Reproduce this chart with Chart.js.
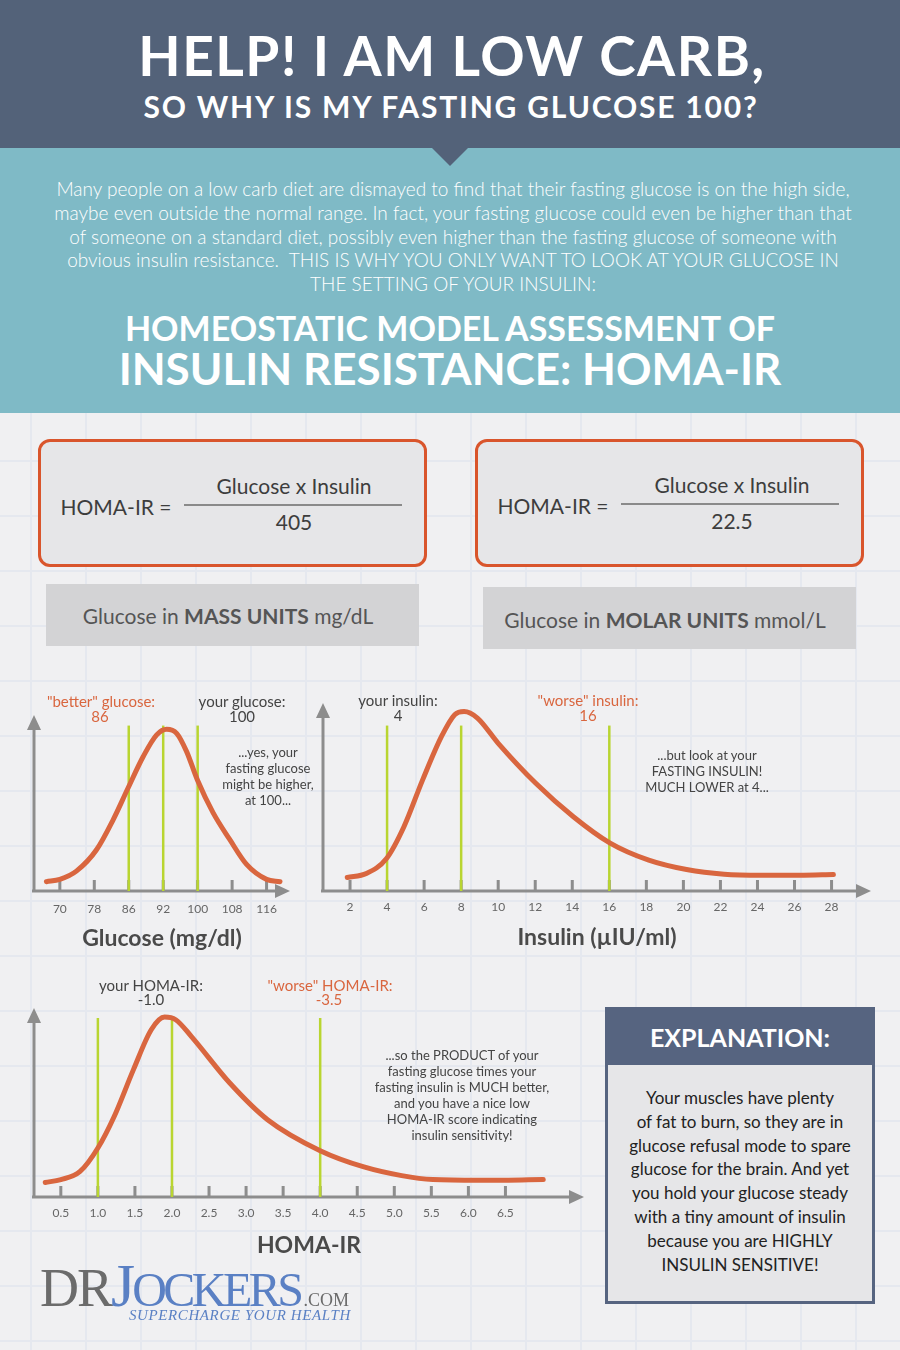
<!DOCTYPE html>
<html>
<head>
<meta charset="utf-8">
<script src="https://cdn.jsdelivr.net/npm/chart.js@4.4.0/dist/chart.umd.min.js"></script>
<style>
body { margin: 0; background: #f0f0f2; }
#page {
  position: relative; width: 900px; height: 1350px; overflow: hidden;
  font-family: Lato, "Open Sans", sans-serif;
  background-color: #f0f0f2;
  background-image: linear-gradient(#e5e8ef 2px, transparent 2px), linear-gradient(90deg, #e5e8ef 2px, transparent 2px);
  background-size: 55px 55px;
  background-position: 30px 20px;
}
.c { position: absolute; white-space: nowrap; transform: translate(-50%, -50%); text-align: center; }
#head { position: absolute; left: 0; top: 0; width: 900px; height: 148px; background: #536279; }
#arrow { position: absolute; left: 432px; top: 148px; width: 0; height: 0;
  border-left: 18px solid transparent; border-right: 18px solid transparent; border-top: 18px solid #536279; z-index: 2; }
#band { position: absolute; left: 0; top: 148px; width: 900px; height: 265px; background: #7fbac6; }
.white { color: #fff; font-weight: 700; }
.para { color: #fff; font-size: 19px; font-weight: 300; }
.fbox { position: absolute; top: 439px; width: 383px; height: 122px; border: 3px solid #d9552c; border-radius: 12px; background: #e6e6e8; }
.gbox { position: absolute; width: 373px; height: 62px; background: #d3d3d5; }
.ftxt { color: #3d3d3d; font-size: 21px; }
.fline { position: absolute; height: 2px; background: #8a8a8a; }
.gtxt { color: #555; font-size: 21px; }
.ann { font-size: 15px; color: #444; line-height: 15px; }
.org { color: #d9663f; }
.note { font-size: 13px; color: #444; line-height: 16px; transform: translate(-50%, 0); }
canvas { position: absolute; }
#expl { position: absolute; left: 605px; top: 1007px; width: 264px; height: 291px; border: 3px solid #566480; background: #e6e6e8; }
#explHead { position: absolute; left: 0; top: 0; width: 264px; height: 55px; background: #566480; color: #fff;
  font-weight: 700; font-size: 25px; line-height: 55px; text-align: center; }
#explText { position: absolute; left: 0; top: 76px; width: 264px; text-align: center; font-size: 17px; line-height: 23.8px; color: #222; }
#logo { position: absolute; left: 40px; top: 1254px; font-family: "Liberation Serif", "DejaVu Serif", serif; line-height: 1; white-space: nowrap; }
#tag { position: absolute; left: 129px; top: 1307px; font-family: "Liberation Serif", serif; font-style: italic; color: #5a80c4; font-size: 15px; letter-spacing: 0.6px; }
</style>
</head>
<body>
<div id="page">
  <div id="head"></div>
  <div id="arrow"></div>
  <div id="band"></div>
  <div class="c white" style="left:452px;top:55px;font-size:55px;letter-spacing:1.5px;">HELP! I AM LOW CARB,</div>
  <div class="c white" style="left:451px;top:106px;font-size:30px;letter-spacing:1.8px;">SO WHY IS MY FASTING GLUCOSE 100?</div>

  <div class="c para" style="left:453px;top:188px;">Many people on a low carb diet are dismayed to find that their fasting glucose is on the high side,</div>
  <div class="c para" style="left:453px;top:212px;">maybe even outside the normal range. In fact, your fasting glucose could even be higher than that</div>
  <div class="c para" style="left:453px;top:236px;">of someone on a standard diet, possibly even higher than the fasting glucose of someone with</div>
  <div class="c para" style="left:453px;top:259px;">obvious insulin resistance.&nbsp; THIS IS WHY YOU ONLY WANT TO LOOK AT YOUR GLUCOSE IN</div>
  <div class="c para" style="left:453px;top:283px;">THE SETTING OF YOUR INSULIN:</div>
  <div class="c white" style="left:450px;top:327px;font-size:34px;">HOMEOSTATIC MODEL ASSESSMENT OF</div>
  <div class="c white" style="left:450px;top:368px;font-size:44px;">INSULIN RESISTANCE: HOMA-IR</div>

  <div class="fbox" style="left:38px;"></div>
  <div class="fbox" style="left:475px;"></div>
  <div class="c ftxt" style="left:116px;top:506px;">HOMA-IR =</div>
  <div class="c ftxt" style="left:294px;top:485px;">Glucose x Insulin</div>
  <div class="fline" style="left:184px;top:504px;width:218px;"></div>
  <div class="c ftxt" style="left:294px;top:521px;">405</div>
  <div class="c ftxt" style="left:553px;top:505px;">HOMA-IR =</div>
  <div class="c ftxt" style="left:732px;top:484px;">Glucose x Insulin</div>
  <div class="fline" style="left:621px;top:503px;width:218px;"></div>
  <div class="c ftxt" style="left:732px;top:520px;">22.5</div>

  <div class="gbox" style="left:46px;top:584px;"></div>
  <div class="gbox" style="left:483px;top:587px;"></div>
  <div class="c gtxt" style="left:228px;top:615px;">Glucose in <b>MASS UNITS</b> mg/dL</div>
  <div class="c gtxt" style="left:665px;top:619px;">Glucose in <b>MOLAR UNITS</b> mmol/L</div>

  <canvas id="glucoseChart" width="296" height="257" style="left:14px;top:695px;"></canvas>
  <canvas id="insulinChart" width="588" height="268" style="left:303px;top:683px;"></canvas>
  <canvas id="homaChart" width="590" height="271" style="left:14px;top:988px;"></canvas>

  <div class="c ann org" style="left:101px;top:701px;">"better" glucose:</div>
  <div class="c ann org" style="left:100px;top:716px;">86</div>
  <div class="c ann" style="left:242px;top:701px;">your glucose:</div>
  <div class="c ann" style="left:242px;top:716px;">100</div>
  <div class="c note" style="left:268px;top:744px;">...yes, your<br>fasting glucose<br>might be higher,<br>at 100...</div>

  <div class="c ann" style="left:398px;top:700px;">your insulin:</div>
  <div class="c ann" style="left:398px;top:715px;">4</div>
  <div class="c ann org" style="left:588px;top:700px;">"worse" insulin:</div>
  <div class="c ann org" style="left:588px;top:715px;">16</div>
  <div class="c note" style="left:707px;top:747px;">...but look at your<br>FASTING INSULIN!<br>MUCH LOWER at 4...</div>

  <div class="c ann" style="left:151px;top:985px;">your HOMA-IR:</div>
  <div class="c ann" style="left:151px;top:999px;">-1.0</div>
  <div class="c ann org" style="left:330px;top:985px;">"worse" HOMA-IR:</div>
  <div class="c ann org" style="left:329px;top:999px;">-3.5</div>
  <div class="c note" style="left:462px;top:1047px;">...so the PRODUCT of your<br>fasting glucose times your<br>fasting insulin is MUCH better,<br>and you have a nice low<br>HOMA-IR score indicating<br>insulin sensitivity!</div>

  <div id="expl">
    <div id="explHead">EXPLANATION:</div>
    <div id="explText">Your muscles have plenty<br>of fat to burn, so they are in<br>glucose refusal mode to spare<br>glucose for the brain. And yet<br>you hold your glucose steady<br>with a tiny amount of insulin<br>because you are HIGHLY<br>INSULIN SENSITIVE!</div>
  </div>

  <div id="logo"><span style="color:#6b6b6b;font-size:54px;letter-spacing:-2px;">DR</span><span style="color:#5a80c4;font-size:62px;letter-spacing:-3px;">J</span><span style="color:#5a80c4;font-size:48px;letter-spacing:-3.5px;">OCKERS</span><span style="color:#6b6b6b;font-size:18px;margin-left:3px;">.COM</span></div>
  <div id="tag">SUPERCHARGE YOUR HEALTH</div>
</div>

<script>
// glucose axis uses evenly spaced positions, labels are not evenly spaced
const glucoseTicks = ['70', '78', '86', '92', '100', '108', '116'];
const glucoseMarkers = ['86', '92', '100'];
const glucoseCurveX = [-0.39, 0, 0.48, 1.07, 1.55, 1.98, 2.42, 2.81, 3.10, 3.39, 3.68, 3.99, 4.45, 4.93, 5.42, 6.0, 6.39];
const glucoseCurveY = [5.3, 6.6, 11.3, 23.6, 40.6, 58.5, 76.4, 88.7, 91.9, 89.6, 79.2, 63.2, 44.4, 29.3, 15.1, 6.6, 5.3];

const insulinTicks = [2, 4, 6, 8, 10, 12, 14, 16, 18, 20, 22, 24, 26, 28];
const insulinMarkers = [4, 8, 16];
const insulinCurveX = [1.85, 2.88, 3.97, 4.91, 5.92, 6.94, 7.65, 8.16, 8.88, 9.99, 12.03, 14.06, 16.02, 18.13, 20.17, 22.2, 24.23, 26.27, 28.1];
const insulinCurveY = [7.2, 9.3, 17.3, 34.2, 59.1, 82.2, 93.8, 95.5, 92.0, 78.7, 57.3, 39.5, 25.6, 16.4, 11.4, 8.9, 8.4, 8.4, 8.8];

const homaTicks = ['0.5', '1.0', '1.5', '2.0', '2.5', '3.0', '3.5', '4.0', '4.5', '5.0', '5.5', '6.0', '6.5'];
const homaMarkers = [1.0, 2.0, 4.0];
const homaCurveX = [0.29, 0.5, 0.76, 1.0, 1.22, 1.48, 1.72, 1.9, 2.05, 2.26, 2.78, 3.29, 4.0, 4.59, 5.1, 5.52, 6.14, 7.01];
const homaCurveY = [7.7, 9.2, 13.5, 25.9, 42.6, 67.4, 88.5, 95.2, 93.8, 85.0, 60.3, 40.9, 24.5, 15.9, 11.3, 9.2, 8.8, 9.2];

// axes with arrow heads and upward tick marks
const axesArrows = {
  id: 'axesArrows',
  beforeDatasetsDraw(chart) {
    const { ctx, chartArea: a, scales: { x } } = chart;
    ctx.save();
    ctx.strokeStyle = '#8d8d8d';
    ctx.fillStyle = '#8d8d8d';
    ctx.lineWidth = 3;
    ctx.beginPath();
    ctx.moveTo(a.left - 2, a.bottom);
    ctx.lineTo(a.right - 10, a.bottom);
    ctx.moveTo(a.left, a.bottom);
    ctx.lineTo(a.left, a.top + 10);
    ctx.stroke();
    ctx.beginPath();
    ctx.moveTo(a.right, a.bottom);
    ctx.lineTo(a.right - 15, a.bottom - 7);
    ctx.lineTo(a.right - 15, a.bottom + 7);
    ctx.closePath();
    ctx.fill();
    ctx.beginPath();
    ctx.moveTo(a.left, a.top);
    ctx.lineTo(a.left - 7, a.top + 15);
    ctx.lineTo(a.left + 7, a.top + 15);
    ctx.closePath();
    ctx.fill();
    ctx.beginPath();
    x.ticks.forEach(t => {
      const px = x.getPixelForValue(t.value);
      ctx.moveTo(px, a.bottom);
      ctx.lineTo(px, a.bottom - 11);
    });
    ctx.stroke();
    ctx.restore();
  }
};

function makeChart(id, o) {
  const datasets = [{
    data: o.curveX.map((v, i) => ({ x: v, y: o.curveY[i] })),
    borderColor: '#d9663f',
    borderWidth: 5,
    borderCapStyle: 'round',
    cubicInterpolationMode: 'monotone',
    pointRadius: 0
  }];
  o.markers.forEach(m => {
    datasets.push({
      data: [{ x: m, y: 0 }, { x: m, y: o.markerTop }],
      borderColor: '#b9d531',
      borderWidth: 2.5,
      pointRadius: 0
    });
  });
  return new Chart(document.getElementById(id), {
    type: 'line',
    data: { datasets: datasets },
    options: {
      responsive: false,
      animation: false,
      layout: { padding: { left: 20, right: 20, top: 20, bottom: 0 } },
      plugins: { legend: { display: false }, tooltip: { enabled: false } },
      scales: {
        x: {
          type: 'linear',
          min: o.min,
          max: o.max,
          grid: { display: false },
          border: { display: false },
          afterBuildTicks: s => { s.ticks = o.tickVals.map(v => ({ value: v })); },
          afterFit: s => { s.height = o.axisHeight; },
          ticks: {
            callback: (v, i) => o.tickLabels[i],
            color: '#666',
            font: { family: 'Lato', size: 12 },
            padding: o.labelPad,
            maxRotation: 0,
            autoSkip: false
          },
          title: {
            display: true,
            text: o.title,
            color: '#4a4a4a',
            font: { family: 'Lato', size: 23, weight: 'bold' },
            padding: 0
          }
        },
        y: { display: false, min: 0, max: 100 }
      }
    },
    plugins: [axesArrows]
  });
}

makeChart('glucoseChart', {
  curveX: glucoseCurveX, curveY: glucoseCurveY,
  markers: glucoseMarkers.map(m => glucoseTicks.indexOf(m)), markerTop: 94,
  tickVals: glucoseTicks.map((t, i) => i), tickLabels: glucoseTicks,
  min: -0.75, max: 6.68, axisHeight: 61, labelPad: 3, title: 'Glucose (mg/dl)'
});

makeChart('insulinChart', {
  curveX: insulinCurveX, curveY: insulinCurveY,
  markers: insulinMarkers, markerTop: 88,
  tickVals: insulinTicks, tickLabels: insulinTicks.map(String),
  min: 0.54, max: 30.13, axisHeight: 60, labelPad: 1, title: 'Insulin (µIU/ml)'
});

makeChart('homaChart', {
  curveX: homaCurveX, curveY: homaCurveY,
  markers: homaMarkers, markerTop: 94.7,
  tickVals: homaTicks.map(Number), tickLabels: homaTicks,
  min: 0.138, max: 7.56, axisHeight: 62, labelPad: 1, title: 'HOMA-IR'
});
</script>
</body>
</html>
